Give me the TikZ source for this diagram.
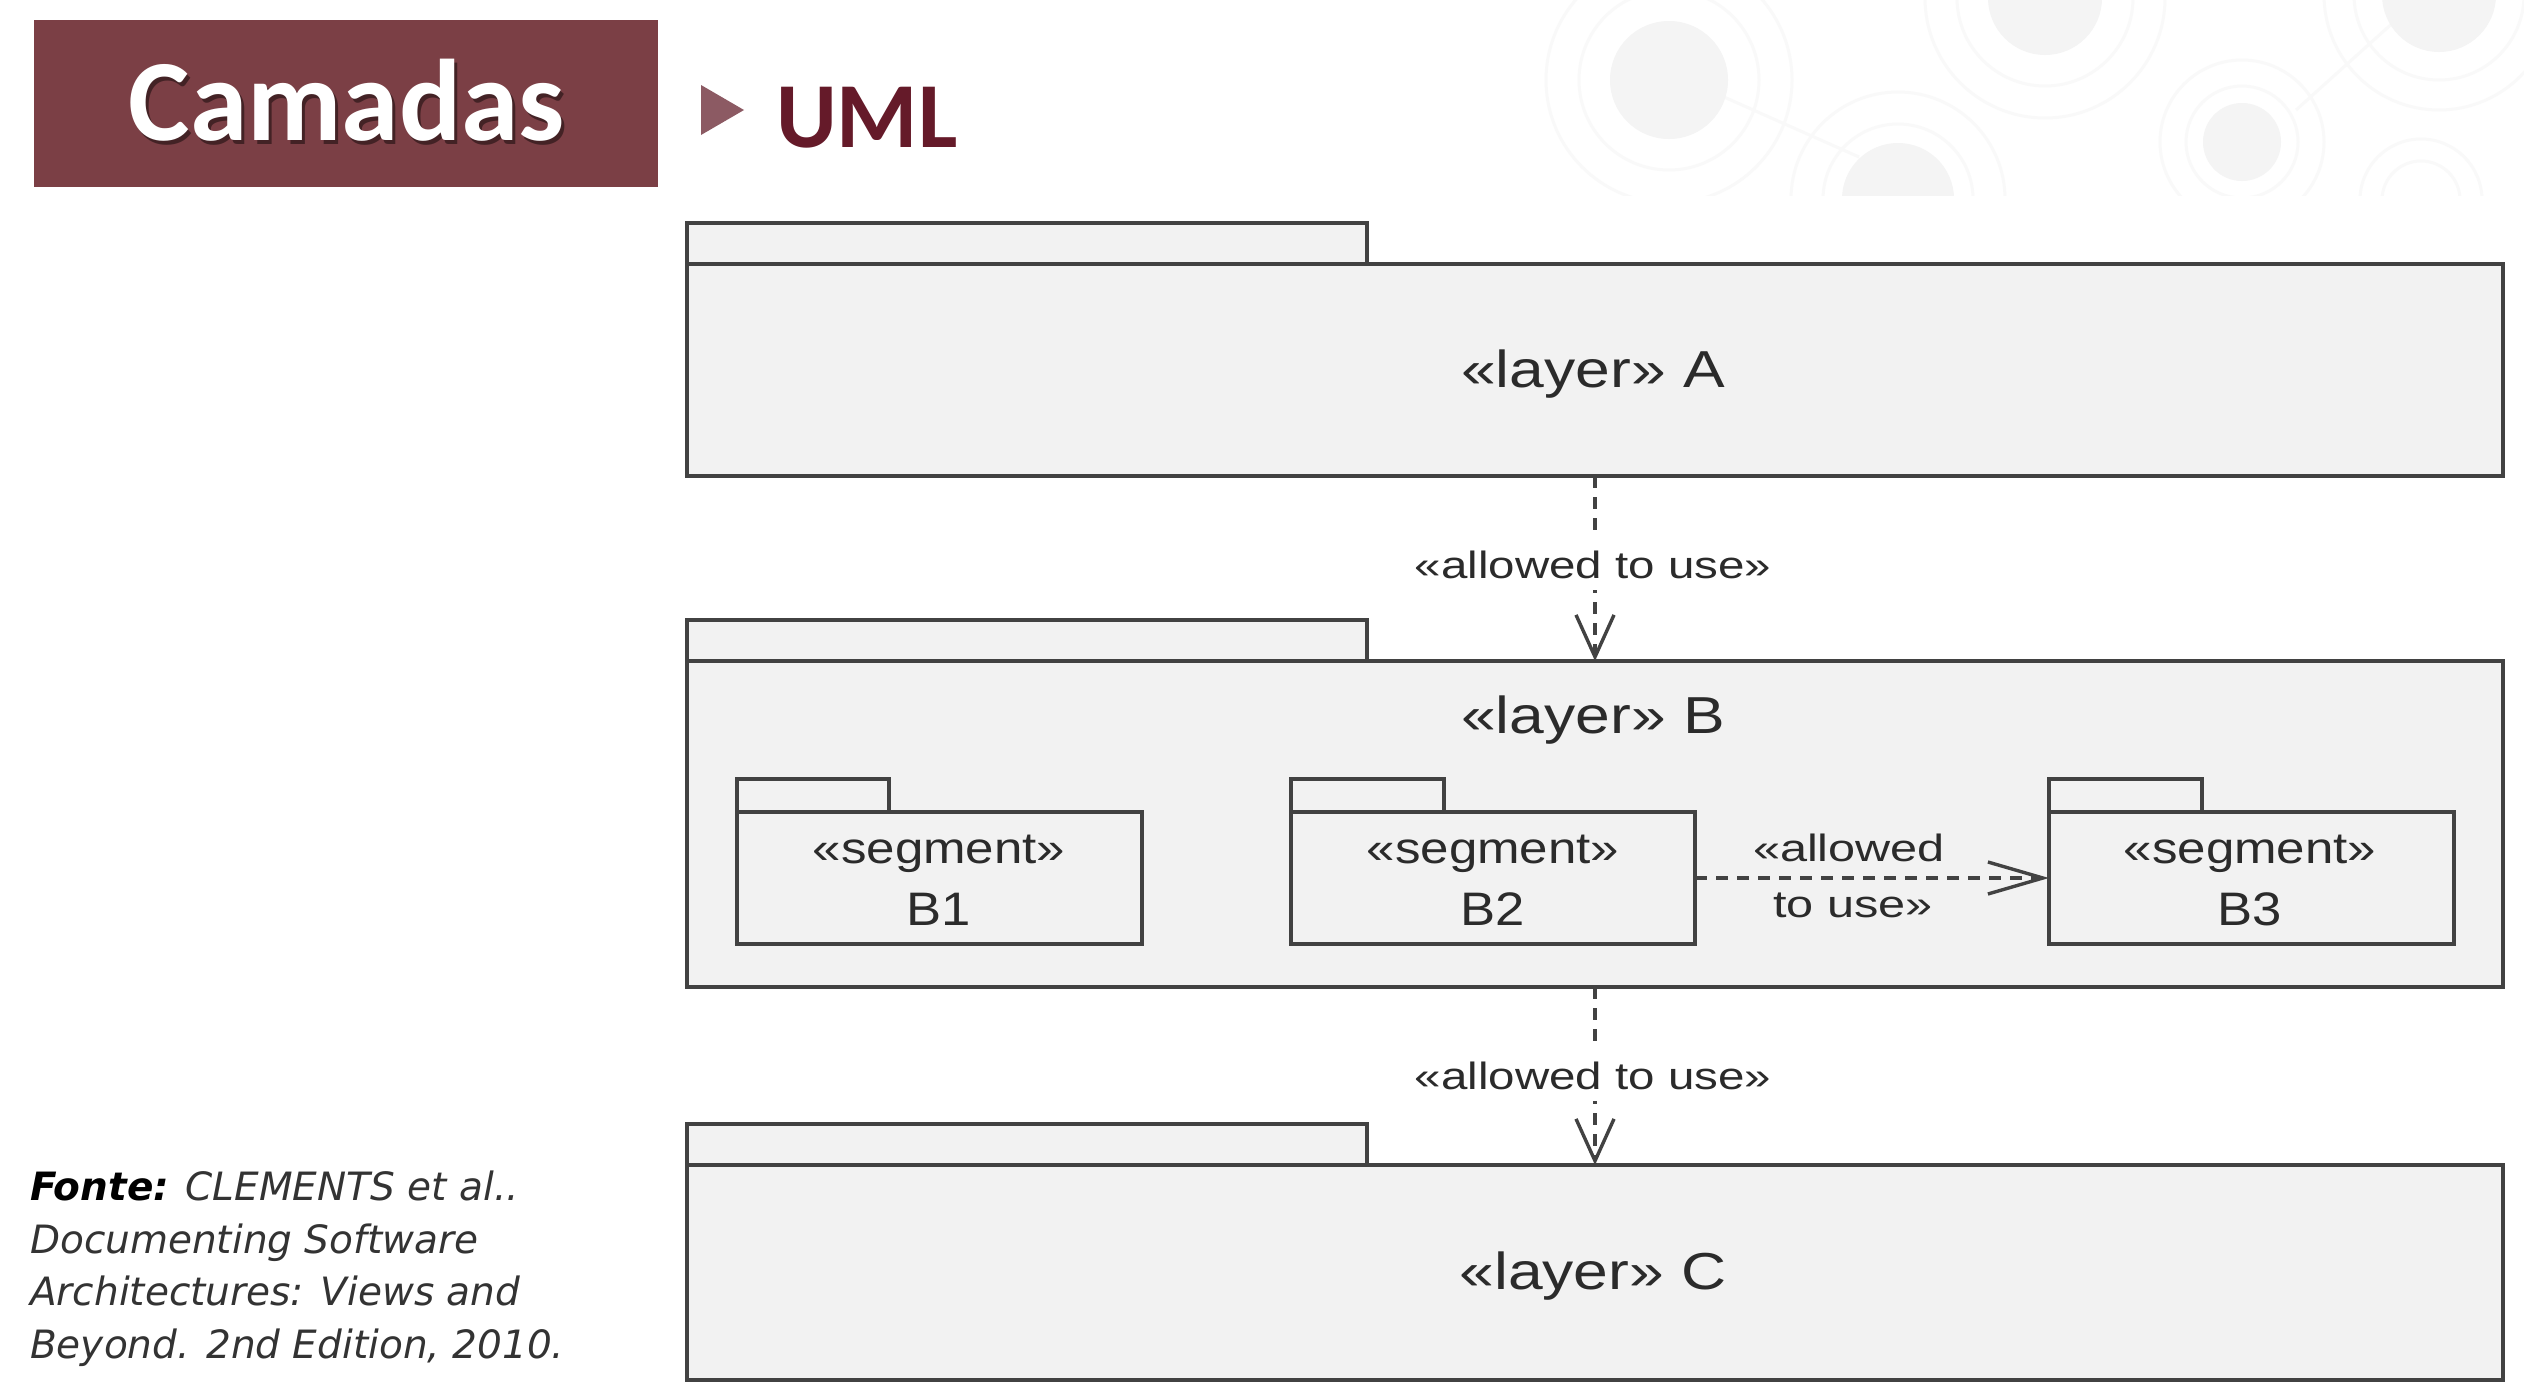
\documentclass[tikz,border=0pt]{standalone}
\usepackage{fontspec}
\usepackage{graphicx}
\usetikzlibrary{arrows.meta}
\setmainfont{Liberation Sans}
\newfontfamily\titlefont{Carlito}
\newfontfamily\srcfont{DejaVu Sans}[ItalicFont={DejaVu Sans Oblique},BoldFont={DejaVu Sans Bold},BoldItalicFont={DejaVu Sans Bold Oblique}]
\definecolor{titlebg}{HTML}{7B3F45}
\definecolor{umlred}{HTML}{651A29}
\definecolor{trimark}{HTML}{8C5A63}
\definecolor{pkgline}{HTML}{424242}
\definecolor{pkgfill}{HTML}{F2F2F2}
\definecolor{txtgray}{HTML}{2B2B2B}
\definecolor{srcgray}{HTML}{333333}
\definecolor{decofill}{HTML}{F4F4F4}
\definecolor{decoring}{HTML}{F9F9F9}
\newcommand\hsc[2]{\scalebox{#1}[1]{#2}}
\tikzset{
  pkg/.style={draw=pkgline, fill=pkgfill, line width=3.5pt, rectangle, inner sep=0pt, outer sep=0pt},
  seg/.style={draw=pkgline, fill=pkgfill, line width=3.2pt, rectangle, inner sep=0pt, outer sep=0pt},
  lbl/.style={text=txtgray, inner sep=0pt, anchor=base},
  layerfont/.style={font=\fontsize{52}{60}\selectfont},
  segfont/.style={font=\fontsize{44}{52}\selectfont},
  namefont/.style={font=\fontsize{47}{54}\selectfont},
  depfont/.style={font=\fontsize{38}{46}\selectfont},
  dep/.style={draw=pkgline, line width=3.6pt, dash pattern=on 12pt off 9pt},
  vtip/.style={-{Straight Barb[length=42pt,width=38pt,line width=3.4pt]}},
  htip/.style={-{Straight Barb[length=55pt,width=32pt,line width=3.4pt]}},
  srcline/.style={anchor=base west, inner sep=0pt, text=srcgray, font=\srcfont\itshape\fontsize{39}{46}\selectfont},
  deco/.style={fill=decofill},
  decoring/.style={draw=decoring, line width=3pt},
}
\begin{document}
\begin{tikzpicture}[x=1pt,y=-1pt]
\useasboundingbox (0,0) rectangle (2524,1390);
\fill[white] (0,0) rectangle (2524,1390);
% faint background decoration
\begin{scope}
  \clip (1500,0) rectangle (2524,195);
  \draw[decoring] (1715,93) -- (1859,157);
  \draw[decoring] (2296,110) -- (2396,20);
  \fill[deco] (1669,80) circle (59);
  \draw[decoring] (1669,80) circle (90) (1669,80) circle (123);
  \fill[deco] (2045,-2) circle (57);
  \draw[decoring] (2045,-2) circle (88) (2045,-2) circle (120);
  \fill[deco] (1898,199) circle (56);
  \draw[decoring] (1898,199) circle (75) (1898,199) circle (107);
  \fill[deco] (2242,142) circle (39);
  \draw[decoring] (2242,142) circle (56) (2242,142) circle (82);
  \fill[deco] (2439,-5) circle (57);
  \draw[decoring] (2439,-5) circle (85) (2439,-5) circle (115);
  \draw[decoring] (2421,200) circle (39) (2421,200) circle (61);
\end{scope}
% title
\node[fill=titlebg, minimum width=624pt, minimum height=167pt, inner sep=0pt] (title) at (346,103.5) {};
\node[anchor=base, inner sep=0pt, text=black, opacity=0.45, font=\titlefont\bfseries\fontsize{116}{120}\selectfont] (titleshadow) at (350,144) {Camadas};
\node[anchor=base, inner sep=0pt, text=white, font=\titlefont\bfseries\fontsize{116}{120}\selectfont] (titletext) at (347,140) {Camadas};
\fill[trimark] (701,85) -- (744,110) -- (701,135) -- cycle;
\node[anchor=base west, inner sep=0pt, text=umlred, font=\titlefont\bfseries\fontsize{93}{100}\selectfont] (uml) at (776,147) {UML};
% layer A
\node[pkg, minimum width=680pt, minimum height=41pt] (Atab) at (1027,243.5) {};
\node[pkg, minimum width=1816pt, minimum height=212pt] (A) at (1595,370) {};
\node[lbl, layerfont] (Alab) at (1593,387) {\hsc{1.2}{«layer» A}};
% layer B
\node[pkg, minimum width=680pt, minimum height=41pt] (Btab) at (1027,640.5) {};
\node[pkg, minimum width=1816pt, minimum height=326pt] (B) at (1595,824) {};
\node[lbl, layerfont] (Blab) at (1593,733) {\hsc{1.2}{«layer» B}};
% segments
\node[seg, minimum width=152pt, minimum height=33pt] (B1tab) at (813,795.5) {};
\node[seg, minimum width=405pt, minimum height=132pt] (B1) at (939.5,878) {};
\node[lbl, segfont] (B1s) at (939,863) {\hsc{1.16}{«segment»}};
\node[lbl, namefont] (B1n) at (939,925) {\hsc{1.12}{B1}};
\node[seg, minimum width=153pt, minimum height=33pt] (B2tab) at (1367.5,795.5) {};
\node[seg, minimum width=404pt, minimum height=132pt] (B2) at (1493,878) {};
\node[lbl, segfont] (B2s) at (1493,863) {\hsc{1.16}{«segment»}};
\node[lbl, namefont] (B2n) at (1493,925) {\hsc{1.12}{B2}};
\node[seg, minimum width=153pt, minimum height=33pt] (B3tab) at (2125.5,795.5) {};
\node[seg, minimum width=405pt, minimum height=132pt] (B3) at (2251.5,878) {};
\node[lbl, segfont] (B3s) at (2250,863) {\hsc{1.16}{«segment»}};
\node[lbl, namefont] (B3n) at (2250,925) {\hsc{1.12}{B3}};
% layer C
\node[pkg, minimum width=680pt, minimum height=41pt] (Ctab) at (1027,1144.5) {};
\node[pkg, minimum width=1816pt, minimum height=215pt] (C) at (1595,1272.5) {};
\node[lbl, layerfont] (Clab) at (1593,1289) {\hsc{1.2}{«layer» C}};
% dependencies
\draw[dep, vtip] (A.south) -- (B.north);
\node[lbl, depfont, fill=white, inner xsep=4pt, inner ysep=12pt] (d1) at (1593,578) {\hsc{1.25}{«allowed to use»}};
\draw[dep, vtip] (B.south) -- (C.north);
\node[lbl, depfont, fill=white, inner xsep=4pt, inner ysep=12pt] (d2) at (1593,1089) {\hsc{1.25}{«allowed to use»}};
\draw[dep, htip] (B2.east) -- (B3.west);
\node[lbl, depfont] (d3a) at (1849,861) {\hsc{1.28}{«allowed}};
\node[lbl, depfont] (d3b) at (1853,917) {\hsc{1.28}{to use»}};
% source
\node[srcline] (src1) at (30,1200) {\textcolor{black}{\bfseries Fonte:} CLEMENTS et al..};
\node[srcline] (src2) at (30,1253) {Documenting Software};
\node[srcline] (src3) at (30,1305) {Architectures: Views and};
\node[srcline] (src4) at (30,1358) {Beyond. 2nd Edition, 2010.};
\end{tikzpicture}
\end{document}
